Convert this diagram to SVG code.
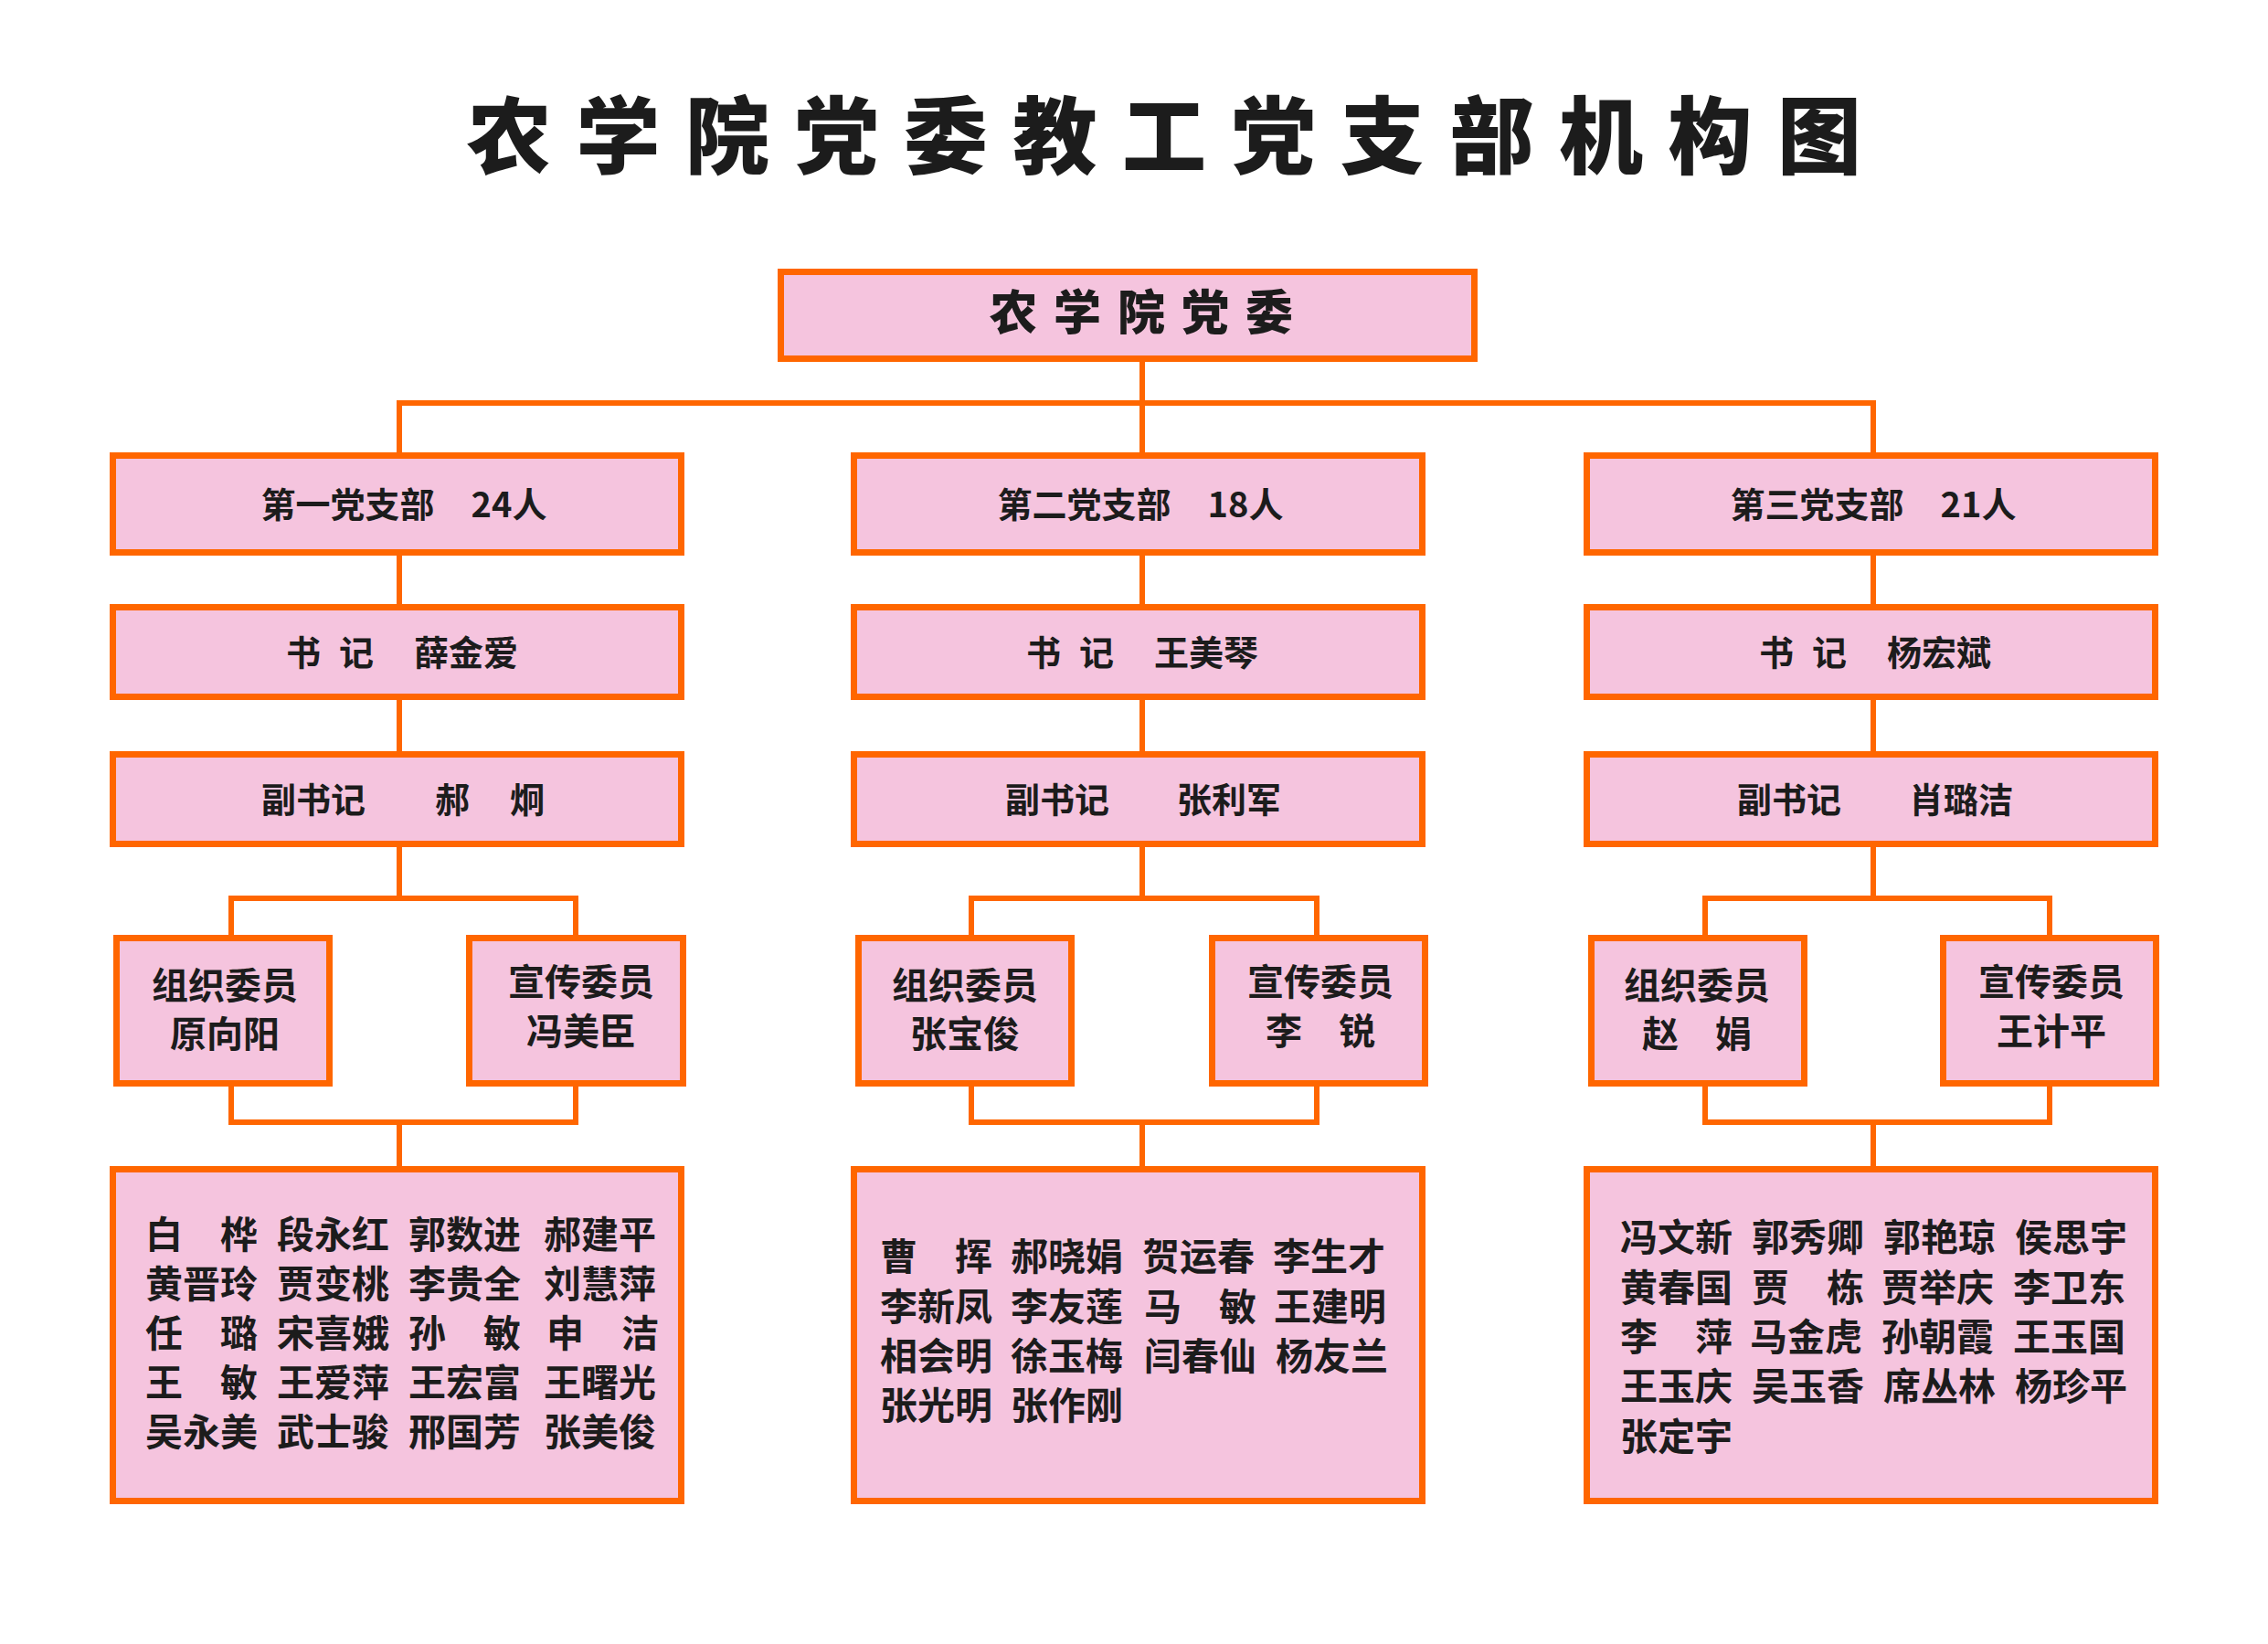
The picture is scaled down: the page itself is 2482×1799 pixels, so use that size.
<svg xmlns="http://www.w3.org/2000/svg" width="2482" height="1799" viewBox="0 0 2482 1799">
<style>
.bg{fill:#ffffff}
.box{fill:#F5C4DE;stroke:#FF6600;stroke-width:7}
.con{fill:none;stroke:#FF6600;stroke-width:6;stroke-linejoin:miter;stroke-linecap:butt}
text{font-family:"Noto Sans CJK SC","Noto Sans CJK JP",sans-serif;fill:#1c1c1c;font-weight:700;dominant-baseline:central}
.title{font-size:92px;font-weight:900;letter-spacing:27.5px}
.top{font-size:52px;font-weight:900;letter-spacing:18px;text-anchor:middle}
.lbl{font-size:38px;text-anchor:middle}
.cm{font-size:40px;text-anchor:middle}
.mem{font-size:41px}
</style>
<rect class="bg" x="0" y="0" width="2482" height="1799"/>
<text class="title" x="511" y="142">农学院党委教工党支部机构图</text>

<g id="connectors">
  <path class="con" d="M1250,396 V495"/>
  <path class="con" d="M434,441 H2053"/>
  <path class="con" d="M437,441 V495"/>
  <path class="con" d="M2050,441 V495"/>
  <path class="con" d="M437,608 V661 M437,766 V822 M437,927 V983"/>
  <path class="con" d="M1250,608 V661 M1250,766 V822 M1250,927 V983"/>
  <path class="con" d="M2050,608 V661 M2050,766 V822 M2050,927 V983"/>
  <path class="con" d="M253,1023 V983 H630 V1023"/>
  <path class="con" d="M1063,1023 V983 H1441 V1023"/>
  <path class="con" d="M1866,1023 V983 H2243 V1023"/>
  <path class="con" d="M253,1189 V1228 H630 V1189 M437,1228 V1276"/>
  <path class="con" d="M1063,1189 V1228 H1441 V1189 M1250,1228 V1276"/>
  <path class="con" d="M1866,1189 V1228 H2243 V1189 M2050,1228 V1276"/>
</g>

<g id="n-top">
  <rect class="box" x="854.5" y="297.5" width="759" height="95"/>
  <text class="top" x="1258" y="338">农学院党委</text>
</g>

<g id="n-b1">
  <rect class="box" x="123.5" y="498.5" width="622" height="106"/>
  <text class="lbl" x="442" y="549">第一党支部<tspan dx="40">24人</tspan></text>
</g>
<g id="n-b2">
  <rect class="box" x="934.5" y="498.5" width="622" height="106"/>
  <text class="lbl" x="1248" y="549">第二党支部<tspan dx="40">18人</tspan></text>
</g>
<g id="n-b3">
  <rect class="box" x="1736.5" y="498.5" width="622" height="106"/>
  <text class="lbl" x="2050" y="549">第三党支部<tspan dx="40">21人</tspan></text>
</g>

<g id="n-s1">
  <rect class="box" x="123.5" y="664.5" width="622" height="98"/>
  <text class="lbl" x="440" y="711">书<tspan dx="20">记</tspan><tspan dx="44">薛金爱</tspan></text>
</g>
<g id="n-s2">
  <rect class="box" x="934.5" y="664.5" width="622" height="98"/>
  <text class="lbl" x="1250" y="711">书<tspan dx="20">记</tspan><tspan dx="44">王美琴</tspan></text>
</g>
<g id="n-s3">
  <rect class="box" x="1736.5" y="664.5" width="622" height="98"/>
  <text class="lbl" x="2052" y="711">书<tspan dx="20">记</tspan><tspan dx="44">杨宏斌</tspan></text>
</g>

<g id="n-v1">
  <rect class="box" x="123.5" y="825.5" width="622" height="98"/>
  <text class="lbl" x="441" y="872">副书记<tspan dx="76">郝</tspan><tspan dx="44">炯</tspan></text>
</g>
<g id="n-v2">
  <rect class="box" x="934.5" y="825.5" width="622" height="98"/>
  <text class="lbl" x="1251" y="872">副书记<tspan dx="74">张利军</tspan></text>
</g>
<g id="n-v3">
  <rect class="box" x="1736.5" y="825.5" width="622" height="98"/>
  <text class="lbl" x="2052" y="872">副书记<tspan dx="74">肖璐洁</tspan></text>
</g>

<g id="n-z1">
  <rect class="box" x="127.5" y="1026.5" width="233" height="159"/>
  <text class="cm" x="246" y="1076">组织委员</text>
  <text class="cm" x="246" y="1129">原向阳</text>
</g>
<g id="n-x1">
  <rect class="box" x="513.5" y="1026.5" width="234" height="159"/>
  <text class="cm" x="636" y="1072">宣传委员</text>
  <text class="cm" x="636" y="1126">冯美臣</text>
</g>
<g id="n-z2">
  <rect class="box" x="939.5" y="1026.5" width="233" height="159"/>
  <text class="cm" x="1056" y="1076">组织委员</text>
  <text class="cm" x="1056" y="1129">张宝俊</text>
</g>
<g id="n-x2">
  <rect class="box" x="1326.5" y="1026.5" width="233" height="159"/>
  <text class="cm" x="1445" y="1072">宣传委员</text>
  <text class="cm" x="1445" y="1126">李　锐</text>
</g>
<g id="n-z3">
  <rect class="box" x="1741.5" y="1026.5" width="233" height="159"/>
  <text class="cm" x="1857" y="1076">组织委员</text>
  <text class="cm" x="1857" y="1129">赵　娟</text>
</g>
<g id="n-x3">
  <rect class="box" x="2126.5" y="1026.5" width="233" height="159"/>
  <text class="cm" x="2245" y="1072">宣传委员</text>
  <text class="cm" x="2245" y="1126">王计平</text>
</g>

<g id="n-m1">
  <rect class="box" x="123.5" y="1279.5" width="622" height="363"/>
  <text class="mem" x="159" y="1348">白　桦</text><text class="mem" x="303" y="1348">段永红</text><text class="mem" x="447" y="1348">郭数进</text><text class="mem" x="595" y="1348">郝建平</text>
  <text class="mem" x="159" y="1402">黄晋玲</text><text class="mem" x="303" y="1402">贾变桃</text><text class="mem" x="447" y="1402">李贵全</text><text class="mem" x="595" y="1402">刘慧萍</text>
  <text class="mem" x="159" y="1456">任　璐</text><text class="mem" x="303" y="1456">宋喜娥</text><text class="mem" x="447" y="1456">孙　敏</text><text class="mem" x="598" y="1456">申　洁</text>
  <text class="mem" x="159" y="1510">王　敏</text><text class="mem" x="303" y="1510">王爱萍</text><text class="mem" x="447" y="1510">王宏富</text><text class="mem" x="595" y="1510">王曙光</text>
  <text class="mem" x="159" y="1564">吴永美</text><text class="mem" x="303" y="1564">武士骏</text><text class="mem" x="447" y="1564">邢国芳</text><text class="mem" x="595" y="1564">张美俊</text>
</g>
<g id="n-m2">
  <rect class="box" x="934.5" y="1279.5" width="622" height="363"/>
  <text class="mem" x="963" y="1372">曹　挥</text><text class="mem" x="1106" y="1372">郝晓娟</text><text class="mem" x="1250" y="1372">贺运春</text><text class="mem" x="1393" y="1372">李生才</text>
  <text class="mem" x="963" y="1427">李新凤</text><text class="mem" x="1106" y="1427">李友莲</text><text class="mem" x="1252" y="1427">马　敏</text><text class="mem" x="1394" y="1427">王建明</text>
  <text class="mem" x="963" y="1481">相会明</text><text class="mem" x="1106" y="1481">徐玉梅</text><text class="mem" x="1252" y="1481">闫春仙</text><text class="mem" x="1396" y="1481">杨友兰</text>
  <text class="mem" x="963" y="1535">张光明</text><text class="mem" x="1106" y="1535">张作刚</text>
</g>
<g id="n-m3">
  <rect class="box" x="1736.5" y="1279.5" width="622" height="363"/>
  <text class="mem" x="1773" y="1351">冯文新</text><text class="mem" x="1917" y="1351">郭秀卿</text><text class="mem" x="2061" y="1351">郭艳琼</text><text class="mem" x="2205" y="1351">侯思宇</text>
  <text class="mem" x="1773" y="1406">黄春国</text><text class="mem" x="1917" y="1406">贾　栋</text><text class="mem" x="2059" y="1406">贾举庆</text><text class="mem" x="2203" y="1406">李卫东</text>
  <text class="mem" x="1773" y="1460">李　萍</text><text class="mem" x="1915" y="1460">马金虎</text><text class="mem" x="2059" y="1460">孙朝霞</text><text class="mem" x="2203" y="1460">王玉国</text>
  <text class="mem" x="1773" y="1514">王玉庆</text><text class="mem" x="1917" y="1514">吴玉香</text><text class="mem" x="2061" y="1514">席丛林</text><text class="mem" x="2205" y="1514">杨珍平</text>
  <text class="mem" x="1773" y="1569">张定宇</text>
</g>
</svg>
